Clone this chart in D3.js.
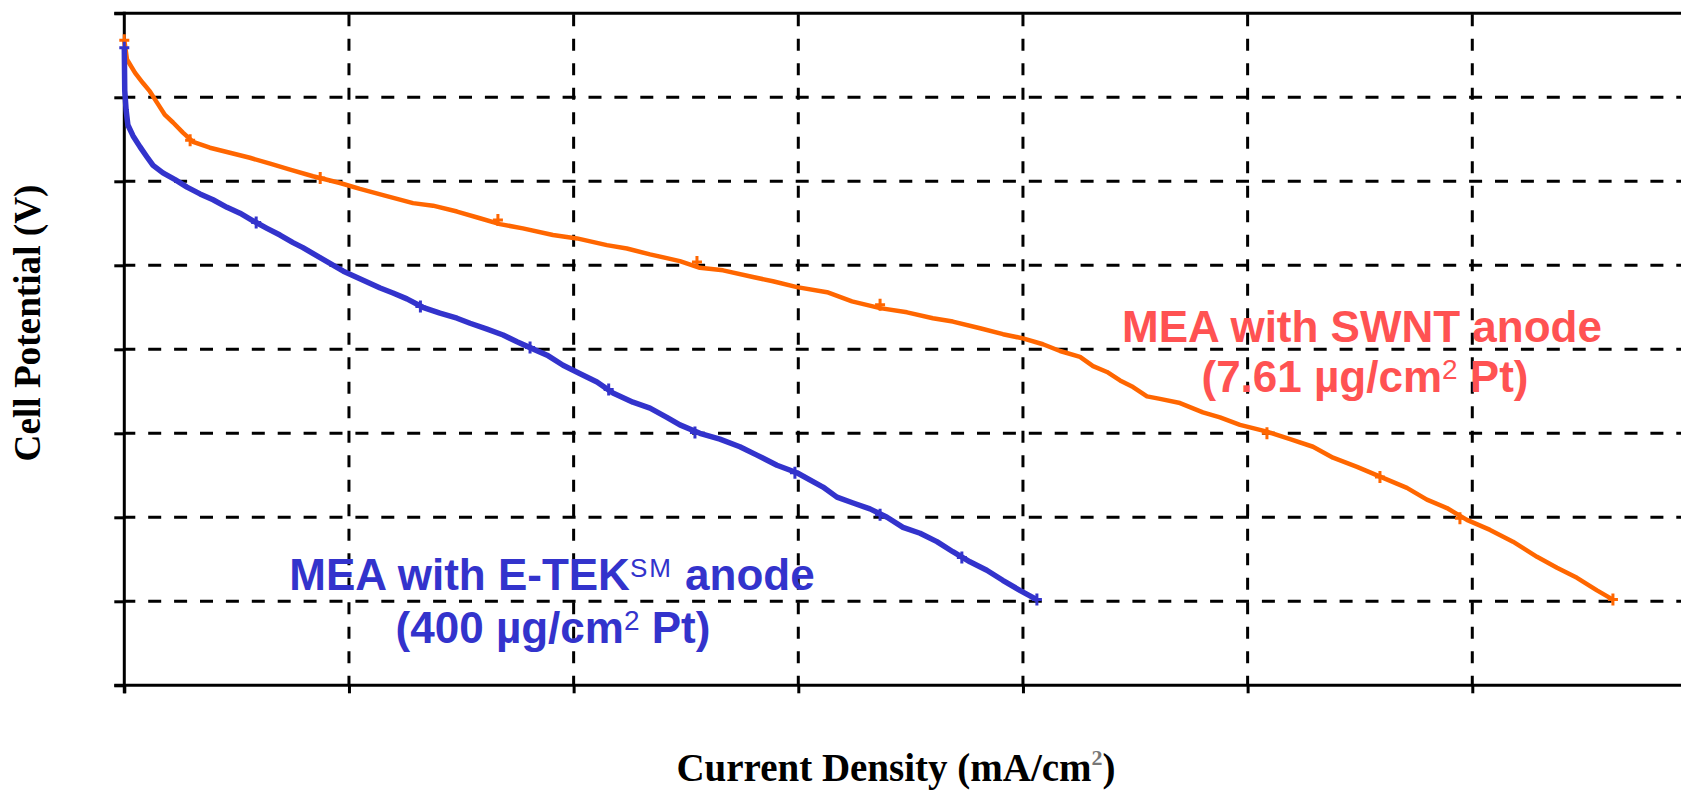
<!DOCTYPE html>
<html>
<head>
<meta charset="utf-8">
<script src="https://cdn.jsdelivr.net/npm/d3@7"></script>
<style>
  body { margin: 0; background: #fff; }
  svg { display: block; }
</style>
</head>
<body>
<svg id="chart" width="1681" height="791"></svg>
<script>
'use strict';

// current density (mA/cm2) and cell potential (V)
const swntCurrent = [0, 1.2, 4.8, 8.3, 11.4, 14.5, 18.1, 21.7, 26.1, 30.6, 38.1, 47.0, 55.9, 64.9, 73.8,
  84.0, 96.0, 104.9, 116.0, 128.5, 137.4, 148.1, 158.3, 167.2, 177.4, 190.8, 201.5, 214.8, 223.7, 234.0,
  247.3, 256.2, 266.5, 279.8, 288.7, 299.4, 312.8, 323.9, 336.4, 348.4, 359.9, 368.8, 380.9, 391.1, 400.0,
  408.9, 416.5, 425.4, 431.2, 437.4, 443.2, 449.0, 455.2, 461.0, 469.9, 480.1, 487.7, 496.6, 508.6, 518.9,
  529.1, 538.0, 548.7, 560.3, 570.9, 579.8, 588.7, 597.6, 607.9, 618.1, 628.8, 637.7, 646.6, 655.5, 662.6];
const swntPotential = [0.768, 0.745, 0.729, 0.717, 0.707, 0.694, 0.679, 0.670, 0.658, 0.647, 0.640, 0.634, 0.628, 0.621, 0.614,
  0.606, 0.598, 0.591, 0.583, 0.574, 0.571, 0.564, 0.556, 0.549, 0.544, 0.536, 0.532, 0.524, 0.520, 0.513,
  0.505, 0.497, 0.494, 0.486, 0.481, 0.474, 0.468, 0.457, 0.449, 0.444, 0.437, 0.433, 0.425, 0.418, 0.413,
  0.406, 0.398, 0.391, 0.380, 0.373, 0.363, 0.355, 0.344, 0.341, 0.336, 0.325, 0.319, 0.310, 0.302, 0.293,
  0.284, 0.271, 0.260, 0.247, 0.235, 0.221, 0.211, 0.197, 0.185, 0.171, 0.153, 0.140, 0.128, 0.113, 0.102];

const etekCurrent = [0, 0.2, 0.8, 1.6, 3.9, 7.0, 10.1, 12.8, 17.2, 22.6, 27.9, 33.7, 39.5, 45.7, 51.5, 57.3,
  63.5, 69.3, 75.1, 79.5, 97.5, 113.9, 119.6, 125.8, 132.9, 140.5, 148.1, 153.9, 161.5, 168.6, 174.8, 180.6,
  188.2, 195.3, 202.9, 210.4, 217.5, 226.4, 234.0, 241.5, 247.3, 256.2, 265.1, 274.0, 281.6, 290.5, 299.4,
  311.0, 317.2, 324.4, 331.9, 339.5, 346.6, 354.2, 361.7, 368.8, 376.4, 383.9, 391.0, 398.6, 406.2];
const etekPotential = [0.759, 0.708, 0.685, 0.667, 0.654, 0.641, 0.629, 0.619, 0.610, 0.602, 0.593, 0.585, 0.578, 0.569, 0.562, 0.553,
  0.544, 0.536, 0.527, 0.521, 0.493, 0.473, 0.467, 0.460, 0.450, 0.443, 0.437, 0.431, 0.424, 0.417, 0.409, 0.402,
  0.393, 0.381, 0.371, 0.361, 0.348, 0.337, 0.330, 0.319, 0.310, 0.300, 0.293, 0.284, 0.274, 0.262, 0.253,
  0.236, 0.224, 0.217, 0.210, 0.200, 0.188, 0.181, 0.171, 0.159, 0.147, 0.137, 0.125, 0.113, 0.102];

// little cross marks sitting on the curves
const swntMarkCurrent = [0, 29.3, 87.2, 166.3, 254.9, 336.4, 508.6, 558.9, 594.5, 662.6];
const swntMarkPotential = [0.768, 0.649, 0.604, 0.554, 0.504, 0.453, 0.300, 0.248, 0.199, 0.102];
const etekMarkCurrent = [0, 58.7, 131.8, 180.6, 215.6, 254.0, 298.5, 336.4, 372.8, 406.2];
const etekMarkPotential = [0.759, 0.551, 0.451, 0.402, 0.352, 0.301, 0.253, 0.203, 0.152, 0.102];

const xTicks = [0, 100, 200, 300, 400, 500, 600];
const yTicks = [0, 0.1, 0.2, 0.3, 0.4, 0.5, 0.6, 0.7, 0.8];

const svg = d3.select("#chart");
let margin = {top: 13.3, right: 0, bottom: 105.7, left: 124.3},
  width = 1681 - margin.left - margin.right,
  height = 791 - margin.top - margin.bottom,
  g = svg.append("g").attr("transform", "translate(" + margin.left + "," + margin.top + ")");

let x = d3.scaleLinear().domain([0, 692.9]).range([0, width]);
let y = d3.scaleLinear().domain([0, 0.8]).range([height, 0]);

// dashed grid
g.append("g").selectAll("line")
  .data(yTicks.slice(1, -1))
  .enter().append("line")
  .attr("x1", 0).attr("x2", width)
  .attr("y1", d => y(d)).attr("y2", d => y(d))
  .attr("stroke", "#000").attr("stroke-width", 3)
  .attr("stroke-dasharray", "13,12.9").attr("stroke-dashoffset", 2);

g.append("g").selectAll("line")
  .data(xTicks.slice(1))
  .enter().append("line")
  .attr("x1", d => x(d)).attr("x2", d => x(d))
  .attr("y1", 0).attr("y2", height)
  .attr("stroke", "#000").attr("stroke-width", 3)
  .attr("stroke-dasharray", "12,12.5").attr("stroke-dashoffset", -1);

// top frame line
g.append("line")
  .attr("x1", -10).attr("x2", width)
  .attr("y1", 0).attr("y2", 0)
  .attr("stroke", "#000").attr("stroke-width", 3);

// axes, no tick labels
let yAxis = g.append("g")
  .call(d3.axisLeft(y).tickValues(yTicks).tickSize(10).tickSizeOuter(0).tickFormat(""));
let xAxis = g.append("g")
  .attr("transform", "translate(0," + height + ")")
  .call(d3.axisBottom(x).tickValues(xTicks).tickSize(8).tickSizeOuter(0).tickFormat(""));
[xAxis, yAxis].forEach(a => {
  a.selectAll("path, line").attr("stroke", "#000").attr("stroke-width", 3);
});
xAxis.select(".domain").attr("d", "M-10,0H" + width);
yAxis.select(".domain").attr("d", "M0,-1.5V" + (height + 8));

// curves
let line = d3.line().x(d => x(d[0])).y(d => y(d[1]));

let appendCurve = function (current, potential, color, w) {
  g.append("path")
    .datum(d3.zip(current, potential))
    .attr("d", line)
    .attr("fill", "none")
    .attr("stroke", color)
    .attr("stroke-width", w)
    .attr("stroke-linejoin", "round");
};
let appendMarks = function (current, potential, color) {
  g.append("g").selectAll("path")
    .data(d3.zip(current, potential))
    .enter().append("path")
    .attr("transform", d => "translate(" + x(d[0]) + "," + y(d[1]) + ")")
    .attr("d", "M-5,0H5M0,-6V6")
    .attr("stroke", color)
    .attr("stroke-width", 3);
};

appendCurve(swntCurrent, swntPotential, "#ff6600", 4.5);
appendCurve(etekCurrent, etekPotential, "#3333cc", 5.5);
appendMarks(swntMarkCurrent, swntMarkPotential, "#ff6600");
appendMarks(etekMarkCurrent, etekMarkPotential, "#3333cc");

// axis titles
const serif = "'Liberation Serif', 'Times New Roman', serif";
const sans = "'Liberation Sans', Arial, sans-serif";

let xTitle = svg.append("text")
  .attr("x", 896).attr("y", 781)
  .attr("text-anchor", "middle")
  .attr("font-family", serif).attr("font-weight", "bold").attr("font-size", 39);
xTitle.append("tspan").text("Current Density (mA/cm");
xTitle.append("tspan").attr("font-size", 22).attr("dy", -16).attr("fill", "#777").text("2");
xTitle.append("tspan").attr("dy", 16).text(")");

svg.append("text")
  .attr("transform", "translate(40,323) rotate(-90)")
  .attr("text-anchor", "middle")
  .attr("font-family", serif).attr("font-weight", "bold").attr("font-size", 38)
  .attr("textLength", 277).attr("lengthAdjust", "spacingAndGlyphs")
  .text("Cell Potential (V)");

// curve annotations
let swntNote = svg.append("g")
  .attr("font-family", sans).attr("font-weight", "bold").attr("font-size", 44)
  .attr("fill", "#ff5252").attr("text-anchor", "middle");
swntNote.append("text").attr("x", 1362).attr("y", 342).text("MEA with SWNT anode");
let s2 = swntNote.append("text").attr("x", 1365).attr("y", 392);
s2.append("tspan").text("(7.61 \u00b5g/cm");
s2.append("tspan").attr("font-size", 28).attr("font-weight", "normal").attr("dy", -13).text("2");
s2.append("tspan").attr("dy", 13).text(" Pt)");

let etekNote = svg.append("g")
  .attr("font-family", sans).attr("font-weight", "bold").attr("font-size", 44)
  .attr("fill", "#3333cc").attr("text-anchor", "middle");
let e1 = etekNote.append("text").attr("x", 552).attr("y", 590);
e1.append("tspan").text("MEA with E-TEK");
e1.append("tspan").attr("font-size", 26).attr("font-weight", "normal").attr("letter-spacing", 2).attr("dy", -13).text("SM");
e1.append("tspan").attr("dy", 13).text(" anode");
let e2 = etekNote.append("text").attr("x", 553).attr("y", 643);
e2.append("tspan").text("(400 \u00b5g/cm");
e2.append("tspan").attr("font-size", 28).attr("font-weight", "normal").attr("dy", -13).text("2");
e2.append("tspan").attr("dy", 13).text(" Pt)");
</script>
</body>
</html>
